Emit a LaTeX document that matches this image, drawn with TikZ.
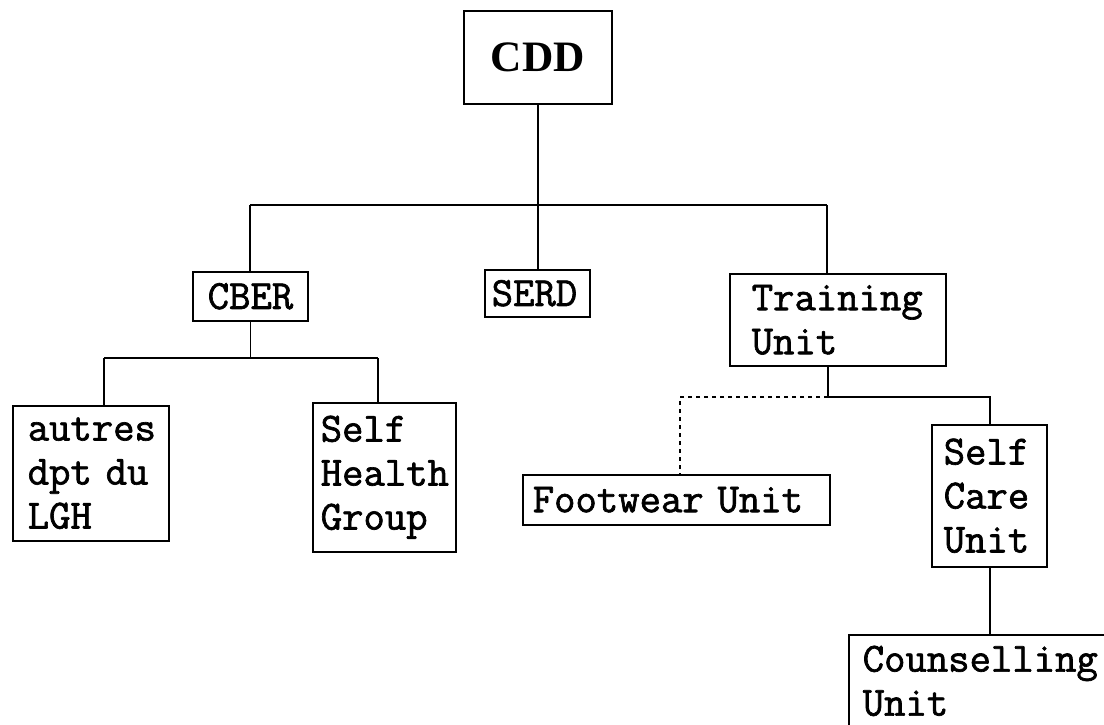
\documentclass[tikz,border=0pt]{standalone}
\usepackage{fontspec}
\newfontfamily\seriff{Liberation Serif}
\newfontfamily\monob{Latin Modern Mono}[FakeBold=1.6]
\begin{document}
\begin{tikzpicture}[x=1pt,y=-1pt,
  box/.style={draw, line width=1.5pt, anchor=north west, inner ysep=0pt, align=left,
    font=\monob\bfseries\fontsize{41.5}{44}\selectfont},
  link/.style={line width=1.5pt},
  dotlink/.style={line width=1.5pt, dash pattern=on 4pt off 4pt}]
\useasboundingbox (0,0) rectangle (1104,724);
\fill[white] (0,0) rectangle (1104,724);
\clip (0,0) rectangle (1104,724);
% nodes
\node[box, font=\seriff\bfseries\fontsize{43.4}{50}\selectfont, align=center, inner xsep=0pt,
  minimum width=148pt, minimum height=93pt] (cdd) at (463,10) {CDD};
\node[box, minimum width=115pt, minimum height=49pt, inner xsep=15pt, text width=85pt] (cber) at (192,271) {CBER};
\node[box, minimum width=105pt, minimum height=47pt, inner xsep=7pt, text width=91pt] (serd) at (484,269) {SERD};
\node[box, minimum width=216pt, minimum height=92pt, inner xsep=22pt, text width=172pt] (tu) at (729,273) {Training\\Unit};
\node[box, minimum width=156pt, minimum height=135pt, inner xsep=15pt, text width=126pt] (aut) at (12,405) {\mbox{autres}\\\mbox{dpt du}\\LGH};
\node[box, minimum width=143pt, minimum height=149pt, inner xsep=8pt, text width=127pt] (shg) at (312,402) {Self\\Health\\Group};
\node[box, minimum width=307pt, minimum height=50pt, inner xsep=10pt, text width=287pt] (fw) at (522,474) {\mbox{Footwear Unit}};
\node[box, minimum width=115pt, minimum height=142pt, inner xsep=12pt, text width=91pt] (scu) at (931,424) {Self\\Care\\Unit};
\node[box, inner xsep=14pt, inner ysep=11pt, text width=300pt] (cou) at (848,634) {Counselling\\Unit\rule[-60pt]{0pt}{60pt}};
% junctions
\coordinate (b1l) at (250,205);
\coordinate (b1r) at (827,205);
\coordinate (b2l) at (104,358);
\coordinate (b2r) at (378,358);
\coordinate (b3m) at (828,397);
\coordinate (b3l) at (680,397);
\coordinate (b3r) at (990,397);
% connectors
\draw[link] (cdd.south) -- (cdd.south |- b1l);
\draw[link] (b1l) -- (b1r);
\draw[link] (b1l) -- (b1l |- cber.north);
\draw[link] (serd.north -| cdd.south) -- (cdd.south |- b1l);
\draw[link] (b1r) -- (b1r |- tu.north);
\draw[link] (cber.south) -- (cber.south |- b2l);
\draw[link] (b2l) -- (b2r);
\draw[link] (b2l) -- (b2l |- aut.north);
\draw[link] (b2r) -- (b2r |- shg.north);
\draw[link] (b3m |- tu.south) -- (b3m) -- (b3r) -- (b3r |- scu.north);
\draw[dotlink] (b3m) -- (b3l) -- (b3l |- fw.north);
\draw[link] (scu.south -| b3r) -- (b3r |- cou.north);
\end{tikzpicture}
\end{document}
